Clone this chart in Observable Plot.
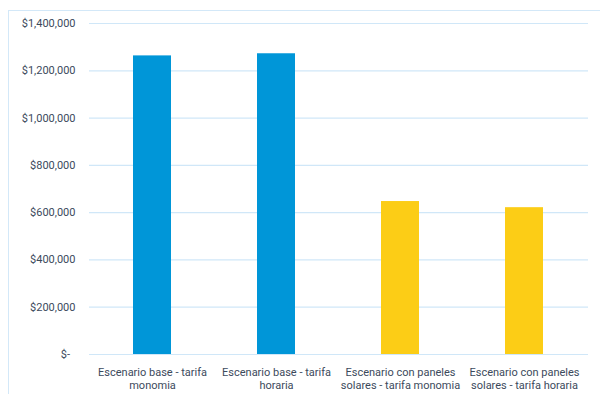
<!DOCTYPE html>
<html>
<head>
<meta charset="utf-8">
<script src="https://cdn.jsdelivr.net/npm/d3@7"></script>
<script src="https://cdn.jsdelivr.net/npm/@observablehq/plot@0.6"></script>
<style>
  html, body { margin: 0; padding: 0; background: #fff; }
  #wrap { position: relative; width: 600px; height: 394px; overflow: hidden; }
  #frame { position: absolute; left: 8px; top: 10px; width: 700px; height: 500px; border: 1px solid #d3e8f8; box-sizing: border-box; }
  #chart { position: absolute; left: 0; top: 0; }
</style>
</head>
<body>
<div id="wrap"><div id="frame"></div><div id="chart"></div></div>
<script>
const categories = [
  "Escenario base - tarifa\nmonomia",
  "Escenario base - tarifa\nhoraria",
  "Escenario con paneles\nsolares - tarifa monomia",
  "Escenario con paneles\nsolares - tarifa horaria"
];
const values = [1263000, 1272000, 647000, 621000];
const barColors = ["#0096d8", "#0096d8", "#fccd16", "#fccd16"];
const yTicks = [0, 200000, 400000, 600000, 800000, 1000000, 1200000, 1400000];

const data = categories.map((c, i) => ({cat: c, value: values[i], color: barColors[i]}));

const fmt = v => v === 0 ? "$-\u00a0\u00a0" : "$" + d3.format(",")(v);

const chart = Plot.plot({
  width: 600,
  height: 394,
  marginLeft: 89,
  marginRight: 12,
  marginTop: 23,
  marginBottom: 40,
  style: {fontFamily: "Roboto, sans-serif", fontSize: "11px", color: "#3c4a5c", background: "transparent"},
  x: {domain: categories, paddingInner: 0.69, paddingOuter: 0.345, label: null},
  y: {domain: [0, 1400000], label: null},
  marks: [
    Plot.gridY(yTicks, {stroke: "#d0e7f8", strokeOpacity: 1, strokeWidth: 1.2}),
    Plot.barY(data, {x: "cat", y: "value", fill: "color"}),
    Plot.axisY(yTicks, {tickSize: 0, tickPadding: 14, tickFormat: fmt, label: null, fill: "#3c4a5c"}),
    Plot.axisX({tickSize: 0, tickPadding: 12, lineHeight: 1.18, label: null, fill: "#3c4a5c"})
  ]
});
document.getElementById("chart").appendChild(chart);
</script>
</body>
</html>
